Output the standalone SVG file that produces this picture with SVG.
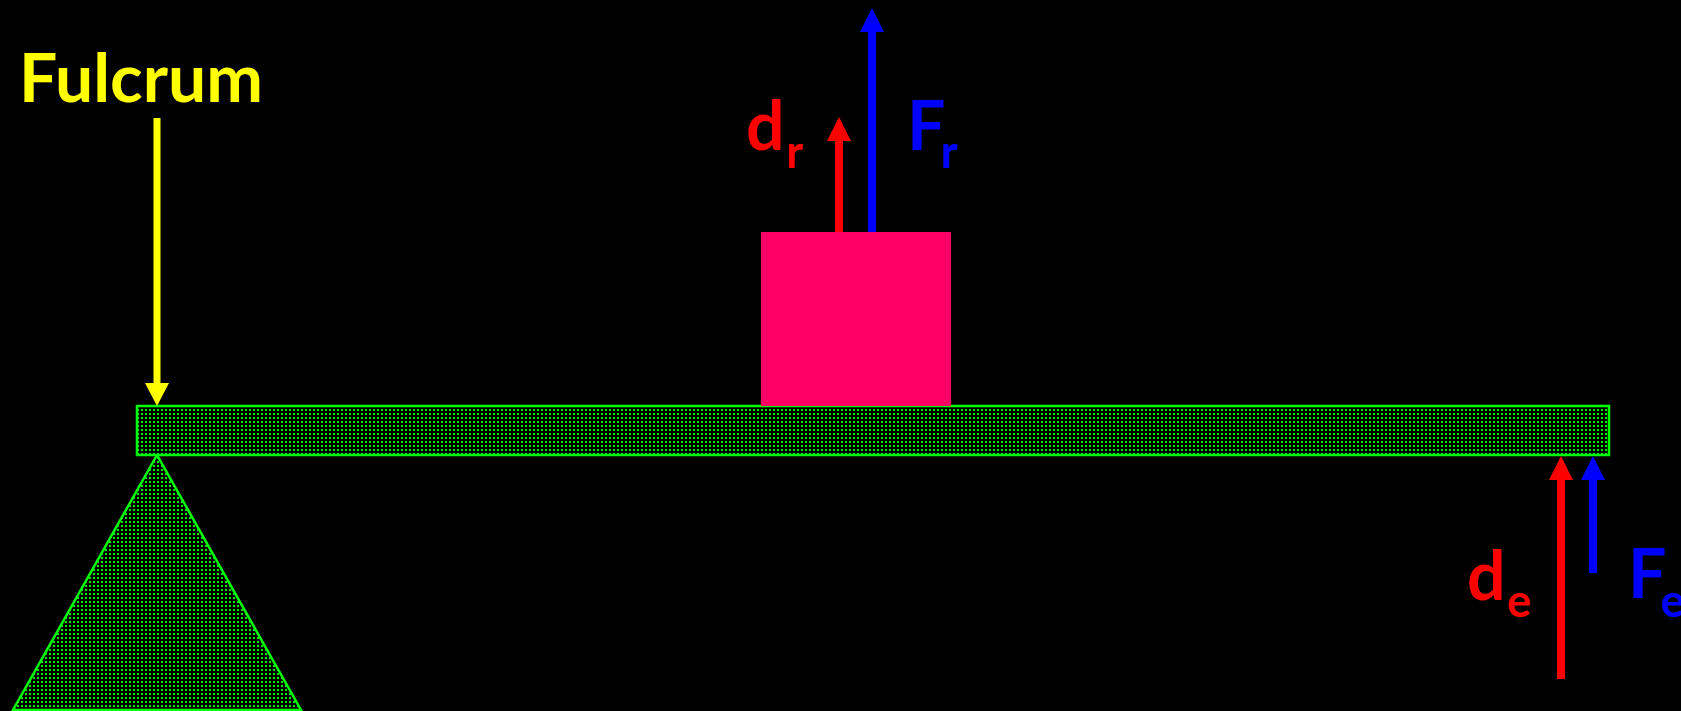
<svg xmlns="http://www.w3.org/2000/svg" width="1681" height="711" viewBox="0 0 1681 711">
<style>
.lbl{font-family:Lato,"Open Sans","Liberation Sans",sans-serif;font-weight:bold}
.main{font-size:68px}
.sub{font-size:45px}
.grn{fill:url(#dots);stroke:#00ff00;stroke-width:2.5}
</style>
<defs>
<pattern id="dots" width="4" height="4" patternUnits="userSpaceOnUse">
<rect width="4" height="4" fill="#000"/>
<rect x="1" y="1" width="2" height="2" fill="#00f000"/>
</pattern>
<marker id="hY" markerUnits="userSpaceOnUse" markerWidth="24" markerHeight="24" refX="1" refY="12" orient="auto"><path d="M0,0 L23,12 L0,24 z" fill="#ffff00"/></marker>
<marker id="hR" markerUnits="userSpaceOnUse" markerWidth="24" markerHeight="24" refX="1" refY="12" orient="auto"><path d="M0,0 L24,12 L0,24 z" fill="#ff0000"/></marker>
<marker id="hB" markerUnits="userSpaceOnUse" markerWidth="24" markerHeight="24" refX="1" refY="12" orient="auto"><path d="M0,0 L24,12 L0,24 z" fill="#0000ff"/></marker>
</defs>
<rect width="1681" height="711" fill="#000"/>
<g id="support"><polygon class="grn" points="157,455 13,710 301,710"/></g>
<g id="beam"><rect class="grn" x="137" y="406" width="1472" height="49"/></g>
<g id="load"><rect x="761" y="232" width="190" height="174" fill="#ff0066"/></g>
<g id="connectors">
<line x1="157" y1="118" x2="157" y2="384" stroke="#ffff00" stroke-width="7" marker-end="url(#hY)"/>
<line x1="839" y1="232" x2="839" y2="140" stroke="#ff0000" stroke-width="8" marker-end="url(#hR)"/>
<line x1="872" y1="232" x2="872" y2="31" stroke="#0000ff" stroke-width="8" marker-end="url(#hB)"/>
<line x1="1561" y1="679" x2="1561" y2="479" stroke="#ff0000" stroke-width="8" marker-end="url(#hR)"/>
<line x1="1593" y1="573" x2="1593" y2="479" stroke="#0000ff" stroke-width="8" marker-end="url(#hB)"/>
</g>
<g id="fulcrum-label"><text class="lbl" x="19" y="102" font-size="67" fill="#ffff00" textLength="244" lengthAdjust="spacingAndGlyphs">Fulcrum</text></g>
<g id="dr-label"><text class="lbl main" x="746" y="150" fill="#ff0000">d<tspan class="sub" x="786" y="168">r</tspan></text></g>
<g id="Fr-label"><text class="lbl main" x="907" y="150" fill="#0000ff">F<tspan class="sub" x="941" y="168">r</tspan></text></g>
<g id="de-label"><text class="lbl main" x="1467" y="600" fill="#ff0000">d<tspan class="sub" x="1507" y="617">e</tspan></text></g>
<g id="Fe-label"><text class="lbl main" x="1628" y="598" fill="#0000ff">F<tspan class="sub" x="1661" y="617">e</tspan></text></g>
</svg>
